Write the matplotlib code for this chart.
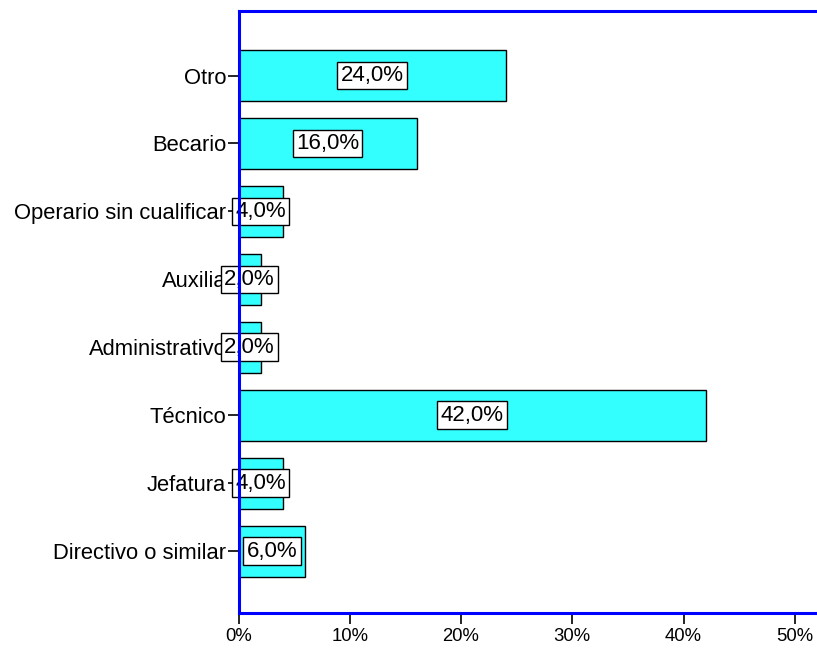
import matplotlib
matplotlib.use("Agg")
import matplotlib.pyplot as plt

categories = ["Directivo o similar", "Jefatura", "Técnico", "Administrativo",
              "Auxilia", "Operario sin cualificar", "Becario", "Otro"]
values = [6.0, 4.0, 42.0, 2.0, 2.0, 4.0, 16.0, 24.0]
xticks = [0, 10, 20, 30, 40, 50]

plt.rcParams['font.family'] = ['Liberation Sans', 'DejaVu Sans']

fig = plt.figure(figsize=(8.17, 6.51), dpi=100)
ax = fig.add_axes([238.5/817, 1-613/651, 1-238.5/817, (613-11)/651])

pos = list(range(len(categories)))
ax.barh(pos, values, height=0.75, color='#33ffff', edgecolor='black', linewidth=1, zorder=2)
for p, v in zip(pos, values):
    ax.text(v/2, p, f"{v:.1f}%".replace('.', ','), ha='center', va='center', fontsize=16,
            bbox=dict(boxstyle='square,pad=0.15', facecolor='white', edgecolor='black', linewidth=1),
            zorder=3)

ax.set_xlim(0, 52)
ax.set_ylim(-0.91, 7.95)
ax.set_yticks(pos)
ax.set_yticklabels(categories, fontsize=15.8)
ax.set_xticks(xticks)
ax.set_xticklabels([f"{t}%" for t in xticks], fontsize=13.3)
ax.tick_params(axis='y', length=8, width=1.2, color='black', pad=0.8)
ax.tick_params(axis='x', length=8, width=1.2, color='black', pad=3)
for s in ['left', 'top', 'bottom']:
    ax.spines[s].set_color('blue')
    ax.spines[s].set_linewidth(2.2)
    ax.spines[s].set_zorder(4)
ax.spines['right'].set_visible(False)

fig.savefig("out.png", dpi=100)
